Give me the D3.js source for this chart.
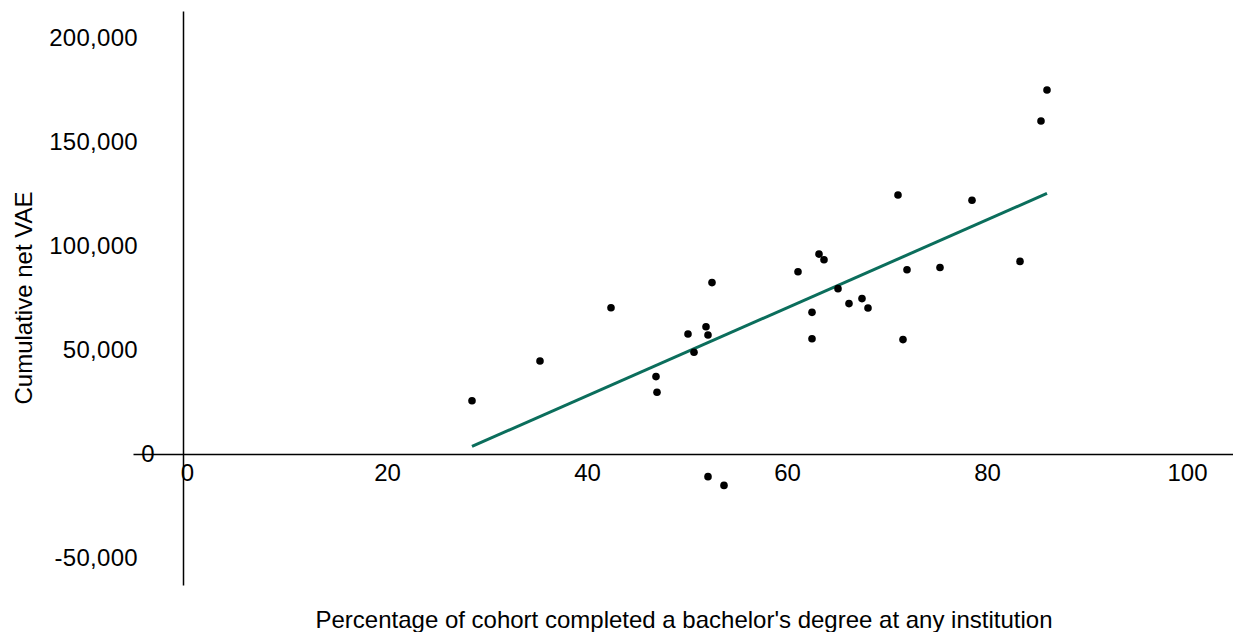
<!DOCTYPE html>
<html>
<head>
<meta charset="utf-8">
<script src="https://d3js.org/d3.v7.min.js"></script>
<style>
  body { margin: 0; background: white; }
  svg text { font-family: "Liberation Sans", Arial, sans-serif; fill: #000; }
</style>
</head>
<body>
<div id="chart"></div>

<script>
// percentage of cohort completing a bachelor's degree (x) and cumulative net VAE (y)
const completionPct = [28.9, 35.7, 42.8, 47.3, 47.4, 50.5, 51.1, 52.3, 52.5, 52.9, 52.5, 54.1,
  61.5, 63.6, 64.1, 62.9, 62.9, 65.5, 66.6, 67.9, 68.5, 71.5, 72.0, 72.4, 75.7, 78.9, 83.7, 85.8, 86.4];
const netVAE = [25600, 44700, 70300, 37200, 29700, 57700, 48900, 61200, 57200, 82400, -10900, -15100,
  87600, 96100, 93400, 68100, 55400, 79500, 72300, 74700, 70200, 124500, 55000, 88600, 89700, 122000, 92600, 160100, 175000];

const xTicks = [0, 20, 40, 60, 80, 100];
const yTicks = [-50000, 0, 50000, 100000, 150000, 200000];

const width = 1233, height = 632;

const svg = d3.select("#chart")
  .append("svg")
    .attr("width", width)
    .attr("height", height);

const x = d3.scaleLinear()
  .domain([-5, 105])
  .range([133, 1233]);

const y = d3.scaleLinear()
  .domain([-63000, 213000])
  .range([585, 11]);

const fmt = d3.formatLocale({decimal: ".", thousands: ",", grouping: [3], currency: ["", ""], minus: "-"}).format(",");

// x axis, crossing at y = 0
const xAxis = svg.append("g")
  .attr("transform", `translate(0, ${y(0)})`)
  .call(d3.axisBottom(x).tickValues(xTicks).tickSize(0).tickSizeOuter(0).tickPadding(10));
xAxis.select(".domain").attr("stroke", "#000").attr("stroke-width", 1.5);
xAxis.selectAll("text")
  .attr("dx", 4)
  .style("font-size", "24px");

// y axis, crossing at x = 0
const yAxis = svg.append("g")
  .attr("transform", `translate(${x(0)}, 0)`)
  .call(d3.axisLeft(y).tickValues(yTicks).tickFormat(fmt).tickSize(0).tickSizeOuter(0).tickPadding(45));
yAxis.select(".domain").attr("stroke", "#000").attr("stroke-width", 1.5);
yAxis.selectAll("text")
  .style("font-size", "24px")
  .style("letter-spacing", "0.3px")
  .filter(d => d === 0)
  .attr("x", -28);

// least squares trend line over the data range
const mx = d3.mean(completionPct), my = d3.mean(netVAE);
let sxy = 0, sxx = 0;
completionPct.forEach((v, i) => {
  sxy += (v - mx) * (netVAE[i] - my);
  sxx += (v - mx) * (v - mx);
});
const slope = sxy / sxx, intercept = my - slope * mx;
const ends = d3.extent(completionPct);

svg.append("line")
  .attr("x1", x(ends[0]))
  .attr("y1", y(intercept + slope * ends[0]))
  .attr("x2", x(ends[1]))
  .attr("y2", y(intercept + slope * ends[1]))
  .attr("stroke", "#0b6e5c")
  .attr("stroke-width", 3);

svg.selectAll("circle.pt")
  .data(completionPct)
  .join("circle")
    .attr("class", "pt")
    .attr("cx", d => x(d))
    .attr("cy", (d, i) => y(netVAE[i]))
    .attr("r", 3.8)
    .attr("fill", "#000");

// axis titles
svg.append("text")
  .attr("x", 684)
  .attr("y", 628)
  .attr("text-anchor", "middle")
  .style("font-size", "24px")
  .text("Percentage of cohort completed a bachelor's degree at any institution");

svg.append("text")
  .attr("transform", "translate(32, 298) rotate(-90)")
  .attr("text-anchor", "middle")
  .style("font-size", "24px")
  .text("Cumulative net VAE");
</script>
</body>
</html>
